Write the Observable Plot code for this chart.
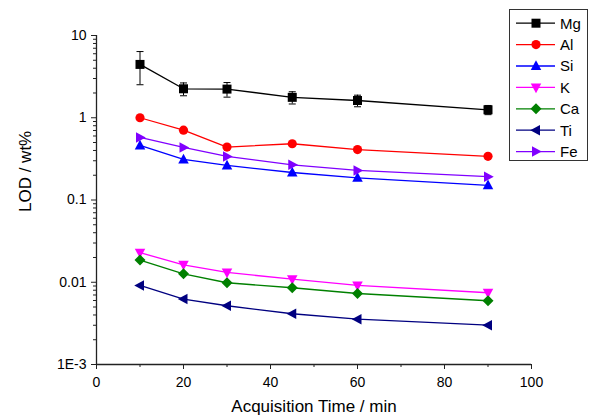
<!DOCTYPE html>
<html><head><meta charset="utf-8">
<script src="https://cdn.jsdelivr.net/npm/d3@7"></script>
<script src="https://cdn.jsdelivr.net/npm/@observablehq/plot@0.6"></script>
<style>
body{margin:0;background:#fff;font-family:"Liberation Sans",Arial,sans-serif;}
#wrap{position:relative;width:591px;height:420px;overflow:hidden;}
#legend{position:absolute;left:509px;top:9px;width:79px;height:152px;border:1px solid #333;box-sizing:border-box;background:#fff}
</style></head><body><div id="wrap"><div id="legend"></div></div>
<script>
// ---- data ----
const times = [10, 20, 30, 45, 60, 90];
const elements = ["Mg", "Al", "Si", "K", "Ca", "Ti", "Fe"];
const colors = ["#000000", "#ff0000", "#0000ff", "#ff00ff", "#008000", "#000080", "#8000ff"];
const Mg = [4.45, 2.25, 2.23, 1.77, 1.62, 1.25];
const MgErr = [1.93, 0.40, 0.45, 0.30, 0.26, 0.16];
const Al = [1.0, 0.706, 0.44, 0.483, 0.41, 0.34];
const Si = [0.46, 0.311, 0.263, 0.216, 0.186, 0.151];
const K = [0.0229, 0.0163, 0.01315, 0.0109, 0.00914, 0.00745];
const Ca = [0.0186, 0.01268, 0.00986, 0.00857, 0.0073, 0.00596];
const Ti = [0.00914, 0.00624, 0.00518, 0.00414, 0.00356, 0.00301];
const Fe = [0.576, 0.435, 0.339, 0.268, 0.229, 0.192];
const xDomain = [0, 100];
const xTicks = [0, 20, 40, 60, 80, 100];
const xMinor = [10, 30, 50, 70, 90];
const yDomain = [0.001, 10];
const yTicks = [0.001, 0.01, 0.1, 1, 10];
const yTickLabels = ["1E-3", "0.01", "0.1", "1", "10"];
const xLabel = "Acquisition Time / min";
const yLabel = "LOD / wt%";

// ---- build ----
const series = {Mg, Al, Si, K, Ca, Ti, Fe};
const rows = elements.flatMap(el => times.map((t, i) => ({time: t, element: el, value: series[el][i]})));
const mgRows = times.map((t, i) => ({time: t, value: Mg[i], err: MgErr[i]}));
const yMinor = [];
for (let e = -3; e < 1; e++) for (let k = 2; k <= 9; k++) yMinor.push(k * Math.pow(10, e));

const poly = pts => ({draw(ctx, size) {
  const r = Math.sqrt(size / Math.PI);
  ctx.moveTo(pts[0][0] * r, pts[0][1] * r);
  for (let i = 1; i < pts.length; i++) ctx.lineTo(pts[i][0] * r, pts[i][1] * r);
  ctx.closePath();
}});
const circ = {draw(ctx, size) { const r = Math.sqrt(size / Math.PI) * 0.92; ctx.moveTo(r, 0); ctx.arc(0, 0, r, 0, 2 * Math.PI); }};
const cap = {draw(ctx, size) { const r = Math.sqrt(size / Math.PI); ctx.moveTo(-r, 0); ctx.lineTo(r, 0); }};
const symbols = {
  Mg: poly([[-0.9, -0.9], [0.9, -0.9], [0.9, 0.9], [-0.9, 0.9]]),
  Al: circ,
  Si: poly([[0, -1.15], [1.05, 0.8], [-1.05, 0.8]]),
  K: poly([[0, 1.15], [1.05, -0.8], [-1.05, -0.8]]),
  Ca: poly([[0, -1.1], [1.1, 0], [0, 1.1], [-1.1, 0]]),
  Ti: poly([[-1.15, 0], [0.8, -1.05], [0.8, 1.05]]),
  Fe: poly([[1.15, 0], [-0.8, -1.05], [-0.8, 1.05]])
};
const colorOf = el => colors[elements.indexOf(el)];

const chart = Plot.plot({
  width: 591, height: 420,
  marginLeft: 96, marginRight: 60, marginTop: 35, marginBottom: 56,
  style: {fontFamily: "'Liberation Sans', Arial, sans-serif", fontSize: "14px", color: "#000", background: "#fff"},
  x: {domain: xDomain},
  y: {type: "log", domain: yDomain},
  color: {domain: elements, range: colors},
  marks: [
    Plot.axisX({ticks: xTicks, tickSize: 5, tickPadding: 8, label: null, stroke: "#222", fontSize: 14}),
    Plot.axisX({ticks: xMinor, tickSize: 3, tickFormat: () => "", label: null, stroke: "#222"}),
    Plot.axisY({ticks: yTicks, tickSize: 5, tickPadding: 5, tickFormat: d => yTickLabels[yTicks.indexOf(d)], label: null, stroke: "#222", fontSize: 14}),
    Plot.axisY({ticks: yMinor, tickSize: 3, tickFormat: () => "", label: null, stroke: "#222"}),
    Plot.ruleX([xDomain[0]], {stroke: "#222", strokeWidth: 1.3}),
    Plot.ruleY([yDomain[0]], {stroke: "#222", strokeWidth: 1.3}),
    Plot.ruleX(mgRows, {x: "time", y1: d => d.value - d.err, y2: d => d.value + d.err, stroke: "#000", strokeWidth: 1}),
    Plot.dot(mgRows, {x: "time", y: d => d.value - d.err, symbol: cap, r: 3.5, stroke: "#000", strokeWidth: 1, fill: "none"}),
    Plot.dot(mgRows, {x: "time", y: d => d.value + d.err, symbol: cap, r: 3.5, stroke: "#000", strokeWidth: 1, fill: "none"}),
    Plot.line(rows, {x: "time", y: "value", z: "element", stroke: "element", strokeWidth: 1.3}),
    ...elements.map(el => Plot.dot(rows.filter(d => d.element === el), {x: "time", y: "value", symbol: symbols[el], r: 5, fill: colorOf(el), stroke: "none"})),
    Plot.text([xLabel], {frameAnchor: "bottom", dy: 47, fontSize: 17, fill: "#000"}),
    Plot.text([yLabel], {frameAnchor: "left", dx: -71, dy: 12, rotate: -90, fontSize: 17, fill: "#000"})
  ]
});
document.getElementById("wrap").prepend(chart);

// ---- legend ----
const lg = d3.select("#legend").append("svg").attr("width", 77).attr("height", 150)
  .style("font-family", "'Liberation Sans', Arial, sans-serif");
elements.forEach((el, i) => {
  const y = 13.2 + i * 21.4;
  const g = lg.append("g").attr("transform", `translate(0,${y})`);
  g.append("line").attr("x1", 6).attr("x2", 45).attr("stroke", colorOf(el)).attr("stroke-width", 1.3);
  g.append("path").attr("transform", "translate(26,0)").attr("d", d3.symbol().type(symbols[el]).size(Math.PI * 25)()).attr("fill", colorOf(el));
  g.append("text").attr("x", 50).attr("dy", "0.36em").attr("font-size", 15).attr("fill", "#000").text(el);
});
</script>
</body></html>
